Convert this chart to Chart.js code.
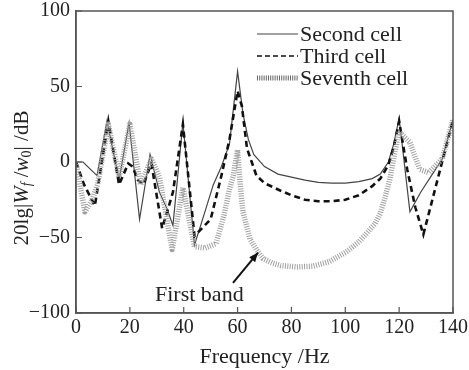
<!DOCTYPE html>
<html>
<head>
<meta charset="utf-8">
<script src="https://cdn.jsdelivr.net/npm/chart.js@4.4.1/dist/chart.umd.min.js"></script>
<style>
  html, body { margin: 0; padding: 0; background: #fff; }
  #wrap { width: 469px; height: 370px; }
</style>
</head>
<body>
<div id="wrap"><canvas id="chart" width="469" height="370"></canvas></div>
<script>
// --- data (frequency in Hz, level in dB) ---
const secondFreq = [0, 2.6, 7.8, 11.5, 16, 19.7, 23.6, 27.5, 31, 33.8, 36, 39.7, 44, 47, 51, 54, 57, 60, 62, 64, 66, 70, 75, 80, 85, 90, 95, 100, 105, 110, 113, 116, 118, 120, 124, 128, 132, 136, 140];
const secondDb = [0, 0, -9, 27, -12, 26, -38, 5, -20, -31, -42, 26, -55, -38, -15, -3, 12, 60, 32, 15, 5, -3, -8, -10, -12, -13.5, -14, -14, -13, -11, -8, 0, 12, 29, -33, -20, -9, 2, 28];

const thirdFreq = [0, 3, 5, 7, 12, 16, 19.4, 21, 23, 25, 28, 32, 36, 39.7, 44, 50, 54, 57, 60, 61.6, 63.5, 67, 70, 76, 80, 85, 90, 95, 100, 105, 110, 113, 116, 118, 120, 123, 126, 129, 140];
const thirdDb = [0, -15, -22, -29, 27, -15, -1, -3, -12, -15, -1, -44, -20, 25, -49, -38, -9, 15, 47, 37, 9, -9, -14, -19, -22, -25, -26, -26, -25, -22, -16, -11, -2, 10, 27, -5, -30, -48, 28];

const seventhFreq = [0, 3.3, 6, 8, 12, 16, 20, 24, 28, 31, 35.7, 39.7, 44, 48, 52, 55, 57, 58.4, 60, 61, 62, 64.6, 67, 69.5, 73, 76, 82, 88, 94, 100, 105, 108, 111, 113, 115, 116.6, 118, 120, 124, 127.7, 131, 136, 140];
const seventhDb = [0, -33, -25, -15, 25, -10, 25, -15, 2, -10, -58, -17, -56, -57, -54, -35, -18, -9, 8, -15, -33, -51, -58, -64, -67, -68.5, -69.5, -69, -66, -60, -53, -47, -41, -34, -22, -11, 3, 20, 13, -5, -7, 2, 28];

const seriesNames = ['Second cell', 'Third cell', 'Seventh cell'];
const xTicks = [0, 20, 40, 60, 80, 100, 120, 140];
const yTicks = [-100, -50, 0, 50, 100];

const SERIF = '"Liberation Serif", "DejaVu Serif", serif';
const INK = '#222';
const AXIS = '#555';

function toPoints(xs, ys) {
  return xs.map((x, i) => ({ x: x, y: ys[i] }));
}

const styles = [
  { borderColor: '#444', borderWidth: 1.2, borderDash: [] },
  { borderColor: '#111', borderWidth: 2.6, borderDash: [6, 4] },
  { borderColor: '#a0a0a0', borderWidth: 5.5, borderDash: [1, 1.4], borderJoinStyle: 'round' },
];

// box, inward ticks, legend, y title and the annotation
const decorations = {
  id: 'decorations',
  afterDraw(chart) {
    const { ctx, chartArea: a, scales } = chart;
    const xs = scales.x, ys = scales.y;
    ctx.save();

    // frame
    ctx.strokeStyle = AXIS;
    ctx.lineWidth = 1.5;
    ctx.strokeRect(a.left, a.top, a.right - a.left, a.bottom - a.top);

    // inward ticks
    ctx.lineWidth = 1.2;
    ctx.beginPath();
    xTicks.forEach((v) => {
      const px = xs.getPixelForValue(v);
      ctx.moveTo(px, a.bottom);
      ctx.lineTo(px, a.bottom - 6);
    });
    yTicks.forEach((v) => {
      const py = ys.getPixelForValue(v);
      ctx.moveTo(a.left, py);
      ctx.lineTo(a.left + 6, py);
    });
    ctx.stroke();

    // legend
    ctx.font = '22px ' + SERIF;
    ctx.fillStyle = INK;
    ctx.textBaseline = 'middle';
    ctx.textAlign = 'left';
    const rows = [34, 56, 78];
    seriesNames.forEach((name, i) => {
      const s = styles[i];
      ctx.save();
      ctx.strokeStyle = i === 2 ? '#666' : s.borderColor;
      ctx.lineWidth = i === 2 ? 5 : (i === 1 ? 1.6 : 1.2);
      ctx.setLineDash(i === 1 ? [5, 3] : (i === 2 ? [1, 1.2] : []));
      ctx.beginPath();
      ctx.moveTo(257, rows[i]);
      ctx.lineTo(298, rows[i]);
      ctx.stroke();
      ctx.restore();
      ctx.fillText(name, 300, rows[i] + 1);
    });

    // y axis title: 20lg|W_f/w_0|/dB
    ctx.save();
    ctx.translate(22, 178);
    ctx.rotate(-Math.PI / 2);
    const parts = [
      { t: '20lg|', f: '21px ' + SERIF, dy: 0 },
      { t: 'W', f: 'italic 21px ' + SERIF, dy: 0 },
      { t: 'f', f: 'italic 14px ' + SERIF, dy: 5 },
      { t: ' /', f: '21px ' + SERIF, dy: 0 },
      { t: 'w', f: 'italic 21px ' + SERIF, dy: 0 },
      { t: '0', f: '14px ' + SERIF, dy: 5 },
      { t: '| /dB', f: '21px ' + SERIF, dy: 0 },
    ];
    let total = 0;
    parts.forEach((p) => { ctx.font = p.f; total += ctx.measureText(p.t).width; });
    let cx = -total / 2;
    ctx.textAlign = 'left';
    parts.forEach((p) => {
      ctx.font = p.f;
      ctx.fillText(p.t, cx, p.dy);
      cx += ctx.measureText(p.t).width;
    });
    ctx.restore();

    // annotation "First band" with arrow
    ctx.font = '22px ' + SERIF;
    ctx.textAlign = 'center';
    ctx.fillText('First band', xs.getPixelForValue(45.8), ys.getPixelForValue(-88.5));
    const x0 = xs.getPixelForValue(58.3), y0 = ys.getPixelForValue(-80);
    const x1 = xs.getPixelForValue(67.6), y1 = ys.getPixelForValue(-60);
    ctx.strokeStyle = '#111';
    ctx.lineWidth = 2;
    ctx.beginPath();
    ctx.moveTo(x0, y0);
    ctx.lineTo(x1, y1);
    ctx.stroke();
    const ang = Math.atan2(y1 - y0, x1 - x0);
    ctx.fillStyle = '#111';
    ctx.beginPath();
    ctx.moveTo(x1, y1);
    ctx.lineTo(x1 - 10 * Math.cos(ang - 0.4), y1 - 10 * Math.sin(ang - 0.4));
    ctx.lineTo(x1 - 10 * Math.cos(ang + 0.4), y1 - 10 * Math.sin(ang + 0.4));
    ctx.closePath();
    ctx.fill();

    ctx.restore();
  },
};

const ctx = document.getElementById('chart').getContext('2d');
new Chart(ctx, {
  type: 'line',
  data: {
    datasets: [
      Object.assign({ label: seriesNames[0], data: toPoints(secondFreq, secondDb) }, styles[0]),
      Object.assign({ label: seriesNames[1], data: toPoints(thirdFreq, thirdDb) }, styles[1]),
      Object.assign({ label: seriesNames[2], data: toPoints(seventhFreq, seventhDb) }, styles[2]),
    ].reverse(),
  },
  options: {
    responsive: false,
    animation: false,
    elements: { point: { radius: 0 }, line: { tension: 0, fill: false } },
    layout: { padding: { left: 0, top: 11, right: 16, bottom: 0 } },
    plugins: { legend: { display: false }, tooltip: { enabled: false } },
    scales: {
      x: {
        type: 'linear',
        min: 0,
        max: 140,
        afterBuildTicks: (s) => { s.ticks = xTicks.map((v) => ({ value: v })); },
        grid: { drawOnChartArea: false, drawTicks: false },
        border: { color: AXIS, width: 1.5 },
        ticks: { color: INK, font: { family: SERIF, size: 20 }, padding: 3 },
        title: {
          display: true,
          text: 'Frequency /Hz',
          color: INK,
          font: { family: SERIF, size: 22 },
          padding: { top: 1, bottom: 0 },
        },
        afterFit: (s) => { s.height = 57; s.paddingLeft = 0; s.paddingRight = 0; },
      },
      y: {
        min: -100,
        max: 100,
        afterBuildTicks: (s) => { s.ticks = yTicks.map((v) => ({ value: v })); },
        grid: { drawOnChartArea: false, drawTicks: false },
        border: { color: AXIS, width: 1.5 },
        ticks: {
          color: INK,
          font: { family: SERIF, size: 20 },
          padding: 6,
          callback: (v) => String(v).replace('-', '\u2212'),
        },
        afterFit: (s) => { s.width = 76; s.paddingTop = 0; s.paddingBottom = 0; },
      },
    },
  },
  plugins: [decorations],
});
</script>
</body>
</html>
